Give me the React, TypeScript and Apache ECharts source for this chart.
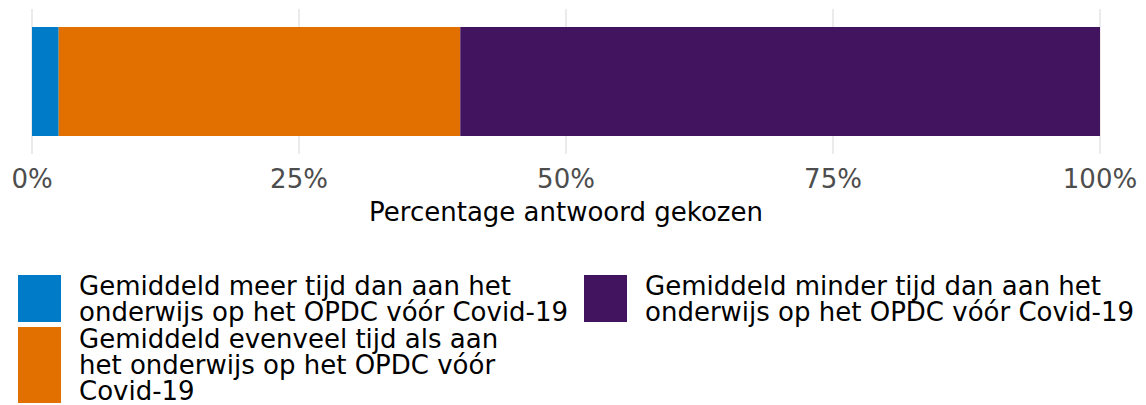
import React, { useEffect, useRef } from "react";
import * as echarts from "echarts";

const categories = ["Antwoord"];
const seriesNames = [
  "Gemiddeld meer tijd dan aan het onderwijs op het OPDC vóór Covid-19",
  "Gemiddeld evenveel tijd als aan het onderwijs op het OPDC vóór Covid-19",
  "Gemiddeld minder tijd dan aan het onderwijs op het OPDC vóór Covid-19",
];
const legendLabels = [
  "Gemiddeld meer tijd dan aan het\nonderwijs op het OPDC vóór Covid-19",
  "Gemiddeld evenveel tijd als aan\nhet onderwijs op het OPDC vóór\nCovid-19",
  "Gemiddeld minder tijd dan aan het\nonderwijs op het OPDC vóór Covid-19",
];
const meerValues = [2.5];
const evenveelValues = [37.6];
const minderValues = [59.9];
const seriesColors = ["#007BC7", "#E17000", "#42145F"];
const xTicks = [0, 25, 50, 75, 100];
const axisTitle = "Percentage antwoord gekozen";

const FONT = "'DejaVu Sans', Verdana, sans-serif";

export default function App() {
  const ref = useRef<HTMLDivElement>(null);
  useEffect(() => {
    document.body.style.margin = "0";
    if (!ref.current) return;
    const chart = echarts.init(ref.current, undefined, { renderer: "svg" });
    const values = [meerValues, evenveelValues, minderValues];

    // legend layout (keys and texts)
    const legendItems = [
      { key: [18, 275, 43, 47], tx: 79, ty: 298.5 },
      { key: [18, 327, 43, 76], tx: 79, ty: 365 },
      { key: [584, 275, 43, 47], tx: 645, ty: 298.5 },
    ];
    const graphic: any[] = [];
    legendItems.forEach((it, i) => {
      graphic.push({
        type: "rect",
        shape: { x: it.key[0], y: it.key[1], width: it.key[2], height: it.key[3] },
        style: { fill: seriesColors[i] },
      });
      graphic.push({
        type: "text",
        x: it.tx,
        y: it.ty,
        style: {
          text: legendLabels[i],
          fontSize: 26,
          fontFamily: FONT,
          lineHeight: 26,
          fill: "#000000",
          align: "left",
          verticalAlign: "middle",
        },
      });
    });

    chart.setOption({
      animation: false,
      backgroundColor: "#ffffff",
      grid: { left: 32, right: 46, top: 9, bottom: 251, containLabel: false },
      xAxis: {
        type: "value",
        min: xTicks[0],
        max: xTicks[xTicks.length - 1],
        interval: 25,
        name: axisTitle,
        nameLocation: "middle",
        nameGap: 45,
        nameTextStyle: { fontSize: 26, fontFamily: FONT, color: "#000000", lineHeight: 26 },
        axisLine: { show: false },
        axisTick: { show: false },
        axisLabel: {
          formatter: "{value}%",
          fontSize: 26,
          fontFamily: FONT,
          color: "#4D4D4D",
          margin: 12,
          lineHeight: 26,
        },
        splitLine: { show: true, lineStyle: { color: "#EBEBEB", width: 2 } },
      },
      yAxis: {
        type: "category",
        data: categories,
        show: false,
      },
      series: seriesNames.map((name, i) => ({
        name,
        type: "bar",
        stack: "total",
        data: values[i],
        barWidth: 109,
        itemStyle: { color: seriesColors[i] },
      })),
      graphic,
    });
    return () => chart.dispose();
  }, []);
  return <div ref={ref} style={{ width: 1146, height: 405 }} />;
}
